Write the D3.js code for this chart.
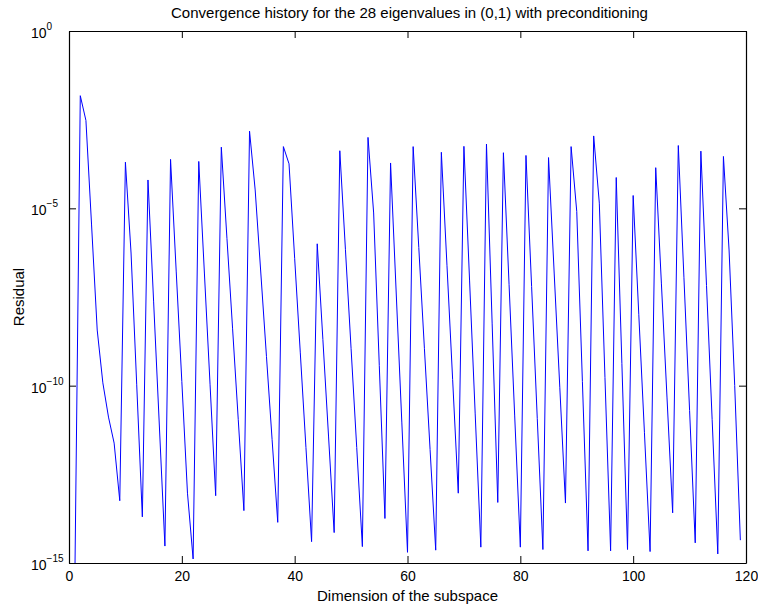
<!DOCTYPE html>
<html>
<head>
<meta charset="utf-8">
<script src="https://cdn.jsdelivr.net/npm/d3@7/dist/d3.min.js"></script>
<style>
  html, body { margin: 0; padding: 0; background: #fff; }
  svg { display: block; }
  text { font-family: "Liberation Sans", Arial, Helvetica, sans-serif; fill: #000; }
</style>
</head>
<body>
<svg id="chart" width="758" height="608"></svg>
<script>
// ---- data ----
const dims = d3.range(1, 120);
const residuals = [
  1e-16, 1.5e-2, 3.0e-3, 3.4e-6, 3.7e-9, 1.2e-10, 1.3e-11, 2.4e-12, 5.7e-14,          // 1-9
  2.0e-4, 5.5e-7, 1.1e-10, 2.0e-14,                                                  // 10-13
  6.3e-5, 2.3e-8, 8.3e-12, 3.0e-15,                                                  // 14-17
  2.4e-4, 1.7e-7, 1.3e-10, 9.3e-14, 1.3e-15,                                         // 18-22
  2.1e-4, 1.5e-7, 1.1e-10, 7.9e-14,                                                  // 23-26
  5.3e-4, 1.4e-6, 4.0e-9, 1.1e-11, 3.0e-14,                                          // 27-31
  1.5e-3, 3.3e-5, 1.5e-7, 6.7e-10, 3.0e-12, 1.4e-14,                                 // 32-37
  5.5e-4, 1.8e-4, 3.9e-7, 8.4e-10, 1.8e-12, 4.0e-15,                                 // 38-43
  1.0e-6, 2.0e-9, 3.8e-12, 7.2e-15,                                                  // 44-47
  4.2e-4, 6.8e-7, 1.1e-9, 1.8e-12, 2.9e-15,                                          // 48-52
  1.0e-3, 7.4e-6, 3.7e-10, 1.8e-14,                                                  // 53-56
  1.9e-4, 4.1e-8, 8.9e-12, 2.0e-15,                                                  // 57-60
  5.5e-4, 7.9e-7, 1.1e-9, 1.6e-12, 2.3e-15,                                          // 61-65
  3.8e-4, 2.4e-7, 1.5e-10, 9.3e-14,                                                  // 66-69
  5.6e-4, 9.5e-8, 1.6e-11, 2.8e-15,                                                  // 70-73
  6.5e-4, 5.8e-9, 5.1e-14,                                                           // 74-76
  3.7e-4, 7.2e-8, 1.4e-11, 2.8e-15,                                                  // 77-80
  3.1e-4, 6.2e-8, 1.2e-11, 2.4e-15,                                                  // 81-84
  2.7e-4, 1.5e-7, 8.7e-11, 4.9e-14,                                                  // 85-88
  5.5e-4, 8.1e-6, 1.3e-10, 2.2e-15,                                                  // 89-92
  1.1e-3, 1.4e-5, 1.7e-10, 2.2e-15,                                                  // 93-96
  7.4e-5, 4.2e-10, 2.4e-15,                                                          // 97-99
  2.3e-5, 1.0e-8, 4.7e-12, 2.1e-15,                                                  // 100-103
  1.4e-4, 7.8e-8, 4.5e-11, 2.6e-14,                                                  // 104-107
  5.9e-4, 1.1e-7, 2.0e-11, 3.7e-15,                                                  // 108-111
  4.1e-4, 6.7e-8, 1.1e-11, 1.8e-15,                                                  // 112-115
  2.9e-4, 6.7e-7, 1.0e-10, 4.4e-15                                                   // 116-119
];
const xTicks = [0, 20, 40, 60, 80, 100, 120];
const yTicks = [1e0, 1e-5, 1e-10, 1e-15];
const yTickExponents = ["0", "\u22125", "\u221210", "\u221215"];
const titleText = "Convergence history for the 28 eigenvalues in (0,1) with preconditioning";
const xLabelText = "Dimension of the subspace";
const yLabelText = "Residual";

// ---- layout ----
const margin = { left: 69, right: 12, top: 31, bottom: 45 };
const W = 758, H = 608;
const svg = d3.select("#chart");

const x = d3.scaleLinear().domain([0, 120]).range([margin.left, W - margin.right]);
const y = d3.scaleLog().domain([1e-15, 1e0]).range([H - margin.bottom, margin.top]);

svg.append("defs").append("clipPath").attr("id", "clip")
  .append("rect")
  .attr("x", x(0)).attr("y", y(1e0))
  .attr("width", x(120) - x(0)).attr("height", y(1e-15) - y(1e0));

// line
const line = d3.line()
  .x((d, i) => x(dims[i]))
  .y(d => y(d));

svg.append("path")
  .datum(residuals)
  .attr("clip-path", "url(#clip)")
  .attr("fill", "none")
  .attr("stroke", "#0000ff")
  .attr("stroke-width", 1)
  .attr("stroke-linejoin", "miter")
  .attr("d", line);

// axes box
const tickLen = 7;
const gx = svg.append("g").attr("transform", `translate(0,${y(1e-15)})`)
  .call(d3.axisBottom(x).tickValues(xTicks).tickSizeInner(-tickLen).tickSizeOuter(0).tickPadding(8).tickFormat(d3.format("d")));
const gxTop = svg.append("g").attr("transform", `translate(0,${y(1e0)})`)
  .call(d3.axisTop(x).tickValues(xTicks).tickSizeInner(-tickLen).tickSizeOuter(0).tickFormat(""));
const gy = svg.append("g").attr("transform", `translate(${x(0)},0)`)
  .call(d3.axisLeft(y).tickValues(yTicks).tickSizeInner(-tickLen).tickSizeOuter(0).tickFormat(""));
const gyR = svg.append("g").attr("transform", `translate(${x(120)},0)`)
  .call(d3.axisRight(y).tickValues(yTicks).tickSizeInner(-tickLen).tickSizeOuter(0).tickFormat(""));

[gx, gxTop, gy, gyR].forEach(g => {
  g.select(".domain").attr("stroke", "#000").attr("stroke-width", 1.2);
  g.selectAll(".tick line").attr("stroke", "#000").attr("stroke-width", 1);
});
gx.selectAll(".tick text").attr("font-size", 14).attr("font-family", "Liberation Sans, Arial, sans-serif").attr("fill", "#000");

// y tick labels with superscripts
const ylab = svg.append("g");
yTicks.forEach((v, i) => {
  const t = ylab.append("text")
    .attr("x", 31)
    .attr("y", y(v) + 7)
    .attr("font-size", 14);
  t.append("tspan").text("10");
  t.append("tspan").attr("dy", -8).attr("font-size", 10).text(yTickExponents[i]);
});

// title and labels
svg.append("text").attr("x", (x(0) + x(120)) / 2 + 2).attr("y", 18)
  .attr("text-anchor", "middle").attr("font-size", 15).text(titleText);
svg.append("text").attr("x", (x(0) + x(120)) / 2).attr("y", 601)
  .attr("text-anchor", "middle").attr("font-size", 15).text(xLabelText);
svg.append("text")
  .attr("transform", `translate(24,${(y(1e0) + y(1e-15)) / 2}) rotate(-90)`)
  .attr("text-anchor", "middle").attr("font-size", 15).text(yLabelText);
</script>
</body>
</html>
